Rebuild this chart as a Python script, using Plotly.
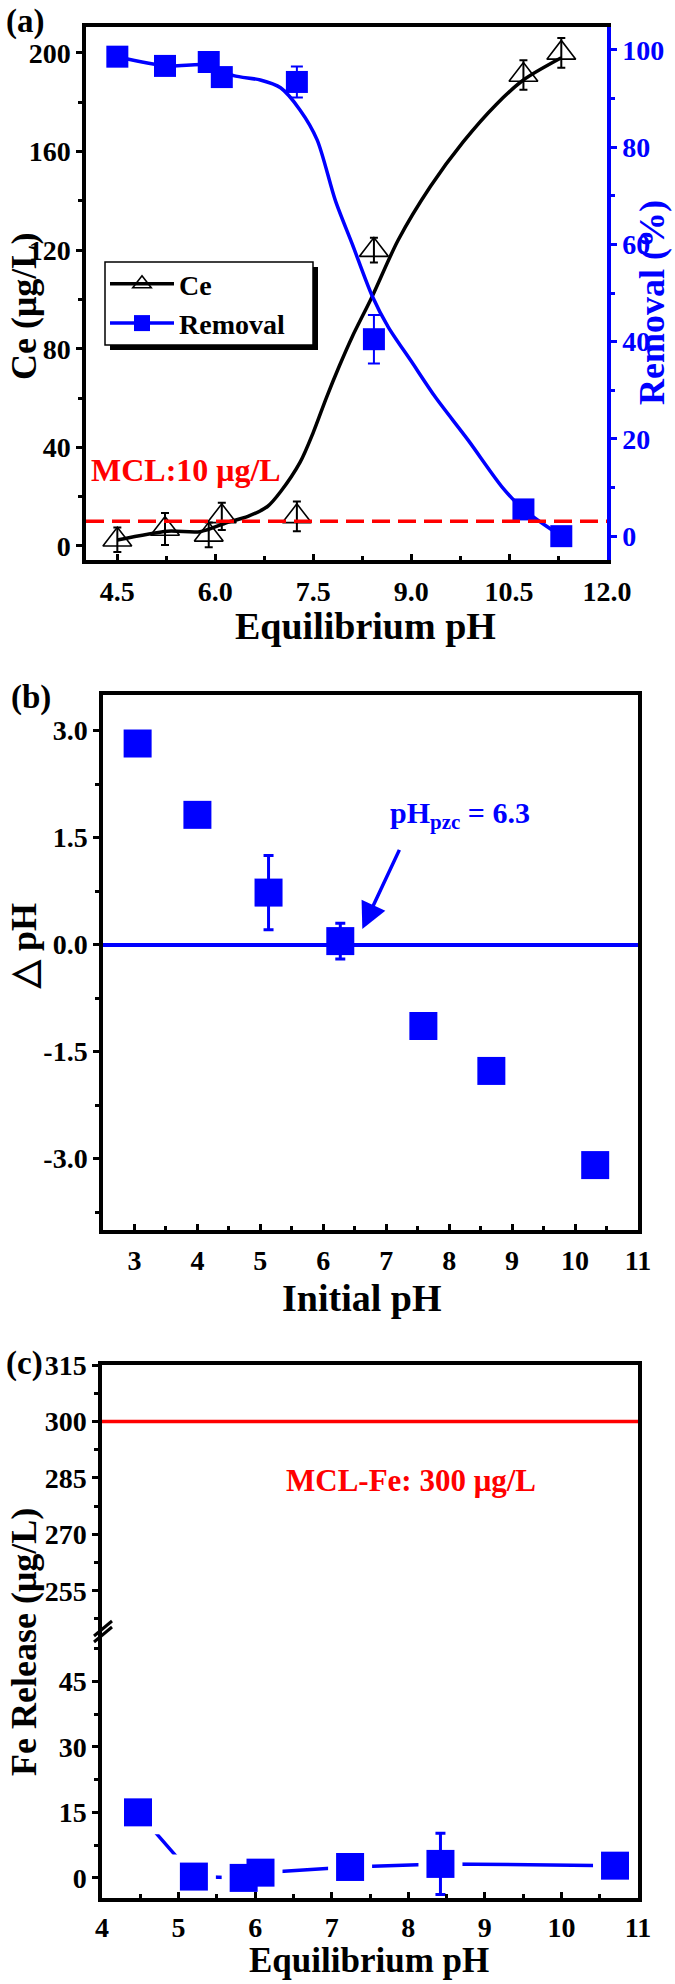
import plotly.graph_objects as go

W, H = 675, 1984
FONT = "Liberation Serif, Times New Roman, serif"
BLUE = "#0000FF"
RED = "#FF0000"

# ---------------- Panel (a) data ----------------
ph_a = [4.50, 5.23, 5.90, 6.10, 7.25, 8.43, 10.72, 11.30]
ce = [2.5, 6.9, 4.5, 12.0, 12.0, 120.0, 191.0, 200.0]
ce_err = [5.0, 6.5, 5.0, 5.5, 6.0, 5.0, 6.0, 6.0]
removal = [98.6, 96.7, 97.5, 94.4, 93.4, 40.5, 5.5, 0.0]
removal_err = [0.8, 0.8, 0.8, 0.8, 3.2, 5.0, 0.8, 0.8]
ce_fit_ph = [4.5, 5.27, 5.77, 6.18, 6.5, 6.8, 7.0, 7.3, 7.5, 7.7, 7.9, 8.1, 8.4, 8.8, 9.3, 9.8, 10.3, 10.72, 11.3]
ce_fit = [2.4, 6.0, 5.8, 9.5, 12.0, 16.0, 22.0, 34.0, 46.0, 60.0, 73.0, 85.0, 101.0, 124.0, 146.0, 164.0, 179.0, 189.0, 198.0]
rem_fit_ph = [4.5, 5.27, 5.88, 6.28, 6.69, 7.0, 7.3, 7.56, 7.84, 8.1, 8.4, 8.65, 9.0, 9.37, 9.87, 10.4, 10.72, 11.3]
rem_fit = [98.6, 96.7, 96.9, 94.7, 93.8, 92.2, 87.6, 81.5, 69.0, 60.0, 49.5, 43.0, 36.0, 28.6, 19.8, 10.0, 5.5, 0.0]
mcl_ce = 10
a_xticks = [4.5, 6.0, 7.5, 9.0, 10.5, 12.0]
a_xticktext = ["4.5", "6.0", "7.5", "9.0", "10.5", "12.0"]
a_yticks = [0, 40, 80, 120, 160, 200]
a_y2ticks = [0, 20, 40, 60, 80, 100]

# ---------------- Panel (b) data ----------------
ph_init = [3.05, 4.0, 5.13, 6.27, 7.59, 8.67, 10.32]
dph = [2.82, 1.82, 0.73, 0.05, -1.14, -1.77, -3.09]
dph_err = [0.05, 0.05, 0.52, 0.25, 0.05, 0.05, 0.05]
b_xticks = [3, 4, 5, 6, 7, 8, 9, 10, 11]
b_yticks = [-3.0, -1.5, 0.0, 1.5, 3.0]
b_yticktext = ["-3.0", "-1.5", "0.0", "1.5", "3.0"]

# ---------------- Panel (c) data ----------------
ph_c = [4.47, 5.20, 5.85, 6.07, 7.24, 8.42, 10.70]
fe = [15.0, 0.3, 0.0, 1.2, 2.5, 3.2, 2.8]
fe_err = [1.0, 1.0, 1.5, 1.0, 0.8, 7.0, 1.0]
mcl_fe = 300
c_xticks = [4, 5, 6, 7, 8, 9, 10, 11]
c_low_ticks = [0, 15, 30, 45]
c_up_ticks = [255, 270, 285, 300, 315]


def px_x(p):
    return p / W


def px_y(p):
    return 1 - p / H


fig = go.Figure()

# ---- panel (a) traces ----
fig.add_trace(go.Scatter(x=ce_fit_ph, y=ce_fit, mode="lines", line=dict(color="black", width=3.5, shape="spline", smoothing=0.8),
                         xaxis="x", yaxis="y", showlegend=False, hoverinfo="skip"))
fig.add_trace(go.Scatter(x=rem_fit_ph, y=rem_fit, mode="lines", line=dict(color=BLUE, width=3.5, shape="spline", smoothing=0.8),
                         xaxis="x", yaxis="y2", showlegend=False, hoverinfo="skip"))
fig.add_trace(go.Scatter(x=ph_a, y=ce, mode="markers", xaxis="x", yaxis="y", showlegend=False,
                         marker=dict(symbol="triangle-up-open", size=25, color="black", line=dict(width=1.6, color="black")),
                         error_y=dict(type="data", array=ce_err, color="black", thickness=2, width=4)))
fig.add_trace(go.Scatter(x=ph_a, y=removal, mode="markers", xaxis="x", yaxis="y2", showlegend=False,
                         marker=dict(symbol="square", size=22, color=BLUE),
                         error_y=dict(type="data", array=removal_err, color=BLUE, thickness=2, width=6)))
# legend entries
fig.add_trace(go.Scatter(x=[None], y=[None], mode="lines+markers", name="Ce", xaxis="x", yaxis="y",
                         line=dict(color="black", width=3.5),
                         marker=dict(symbol="triangle-up-open", size=25, color="black", line=dict(width=1.6))))
fig.add_trace(go.Scatter(x=[None], y=[None], mode="lines+markers", name="Removal", xaxis="x", yaxis="y2",
                         line=dict(color=BLUE, width=3.5),
                         marker=dict(symbol="square", size=22, color=BLUE)))

# ---- panel (b) traces ----
fig.add_trace(go.Scatter(x=ph_init, y=dph, mode="markers", xaxis="x2", yaxis="y3", showlegend=False,
                         marker=dict(symbol="square", size=28, color=BLUE),
                         error_y=dict(type="data", array=dph_err, color=BLUE, thickness=3, width=5)))

# ---- panel (c) traces ----
fig.add_trace(go.Scatter(x=ph_c, y=fe, mode="lines+markers", xaxis="x3", yaxis="y4", showlegend=False,
                         line=dict(color=BLUE, width=3.5),
                         marker=dict(symbol="square", size=44, color="white", line=dict(width=0))))
fig.add_trace(go.Scatter(x=ph_c, y=fe, mode="markers", xaxis="x3", yaxis="y4", showlegend=False,
                         marker=dict(symbol="square", size=28, color=BLUE),
                         error_y=dict(type="data", array=fe_err, color=BLUE, thickness=3, width=5)))
fig.add_trace(go.Scatter(x=[4, 11], y=[mcl_fe, mcl_fe], mode="lines", xaxis="x4", yaxis="y5", showlegend=False,
                         line=dict(color=RED, width=3.5), hoverinfo="skip"))

TICK = 28
tickfont = dict(family=FONT, size=TICK, color="black", weight="bold")


def axis(**kw):
    base = dict(showline=True, linewidth=3.5, linecolor="black", showgrid=False, zeroline=False,
                ticks="outside", ticklen=6, tickwidth=3, tickcolor="black", tickfont=tickfont)
    base.update(kw)
    return base


def minor(dt, t0=0, ticks="outside"):
    return dict(ticks=ticks, ticklen=4, tickwidth=3, tickcolor="black", dtick=dt, tick0=t0, showgrid=False)


dom_a_x = [px_x(86), px_x(607)]
dom_a_y = [px_y(560), px_y(27)]
dom_b_x = [px_x(103), px_x(638)]
dom_b_y = [px_y(1230), px_y(695)]
dom_c_x = [px_x(102), px_x(638)]
brk = px_y(1631)
dom_c_low = [px_y(1898), brk]
dom_c_up = [brk, px_y(1365)]

fig.update_layout(
    width=W, height=H,
    margin=dict(l=0, r=0, t=0, b=0, autoexpand=False),
    paper_bgcolor="white", plot_bgcolor="rgba(0,0,0,0)",
    font=dict(family=FONT, color="black", weight="bold"),
    showlegend=True,
    legend=dict(x=px_x(105), y=px_y(259), xanchor="left", yanchor="top",
                font=dict(family=FONT, size=28, color="black", weight="bold"),
                bgcolor="rgba(0,0,0,0)", borderwidth=0,
                itemwidth=64, tracegroupgap=0),
    xaxis=axis(domain=dom_a_x, range=[4.02, 12.0], anchor="y", mirror=True, ticks="inside",
               tickvals=a_xticks, ticktext=a_xticktext, minor=minor(0.75, 4.5, "inside"), ticklabelstandoff=4),
    yaxis=axis(domain=dom_a_y, range=[-5.7, 210.5], anchor="x", tickvals=a_yticks, minor=minor(20, 0)),
    yaxis2=axis(domain=dom_a_y, range=[-4.9, 104.7], anchor="x", overlaying="y", side="right",
                linecolor=BLUE, tickcolor=BLUE, tickvals=a_y2ticks,
                tickfont=dict(family=FONT, size=TICK, color=BLUE, weight="bold"),
                minor=dict(ticks="outside", ticklen=4, tickwidth=3, tickcolor=BLUE, dtick=10, tick0=0)),
    xaxis2=axis(domain=dom_b_x, range=[2.5, 11], anchor="y3", mirror=True, ticks="inside", tickvals=b_xticks,
                minor=minor(0.5, 0, "inside"), ticklabelstandoff=3),
    yaxis3=axis(domain=dom_b_y, range=[-4.0, 3.5], anchor="x2", mirror=True, tickvals=b_yticks, ticktext=b_yticktext,
                zeroline=True, zerolinecolor=BLUE, zerolinewidth=3.5, minor=minor(0.75, 0)),
    xaxis3=axis(domain=dom_c_x, range=[4, 11], anchor="y4", ticks="inside", tickvals=c_xticks,
                minor=minor(0.5, 0, "inside"), ticklabelstandoff=2),
    yaxis4=axis(domain=dom_c_low, range=[-4.6, 56.5], anchor="x3", mirror=True, tickvals=c_low_ticks, minor=minor(7.5, 0)),
    xaxis4=axis(domain=dom_c_x, range=[4, 11], anchor="y5", side="top", ticks="", showticklabels=False, tickvals=[]),
    yaxis5=axis(domain=dom_c_up, range=[244.3, 315], anchor="x4", mirror=True, tickvals=c_up_ticks, minor=minor(7.5, 0)),
)

shapes = [
    # MCL dashed line in (a)
    dict(type="line", xref="x domain", yref="y", x0=0, x1=1, y0=mcl_ce, y1=mcl_ce,
         line=dict(color=RED, width=3.5, dash="18px,8px"), layer="above"),
    # legend box with shadow (a)
    dict(type="rect", xref="paper", yref="paper", x0=px_x(110), x1=px_x(318), y0=px_y(350), y1=px_y(267),
         fillcolor="black", line=dict(width=0), layer="above"),
    dict(type="rect", xref="paper", yref="paper", x0=px_x(105), x1=px_x(313), y0=px_y(345), y1=px_y(262),
         fillcolor="white", line=dict(color="black", width=1.5), layer="above"),
    # axis break marks (c)
    dict(type="line", xref="paper", yref="paper", x0=px_x(94), x1=px_x(112), y0=px_y(1642), y1=px_y(1627),
         line=dict(color="black", width=3)),
    dict(type="line", xref="paper", yref="paper", x0=px_x(94), x1=px_x(112), y0=px_y(1636), y1=px_y(1621),
         line=dict(color="black", width=3)),
]
fig.update_layout(shapes=shapes)


def ann(text, x, y, size, color="black", angle=0, xanchor="center", **kw):
    d = dict(text=text, x=px_x(x), y=px_y(y), xref="paper", yref="paper", showarrow=False,
             font=dict(family=FONT, size=size, color=color, weight="bold"), textangle=angle,
             xanchor=xanchor, yanchor="middle", borderpad=0)
    d.update(kw)
    return d


annotations = [
    ann("(a)", 25, 21, 33),
    ann("(b)", 31, 697, 33),
    ann("(c)", 24, 1363, 33),
    ann("Ce (μg/L)", 24, 307, 36, angle=-90),
    ann("Removal (%)", 652, 303, 36, color=BLUE, angle=-90),
    ann("Equilibrium pH", 365, 626, 38),
    ann("MCL:10 μg/L", 90, 470, 32, color=RED, xanchor="left"),
    ann("△ pH", 24, 946, 36, angle=-90),
    ann("Initial pH", 361, 1298, 38),
    ann("pH<sub>pzc</sub> = 6.3", 460, 815, 30, color=BLUE),
    dict(text="", x=6.62, y=0.22, xref="x2", yref="y3", ax=7.22, ay=1.35, axref="x2", ayref="y3",
         showarrow=True, arrowhead=2, arrowsize=1.5, arrowwidth=3.5, arrowcolor=BLUE),
    ann("MCL-Fe: 300 μg/L", 411, 1480, 31, color=RED),
    ann("Fe Release (μg/L)", 24, 1642, 36, angle=-90),
    ann("Equilibrium pH", 369, 1960, 35),
]
fig.update_layout(annotations=annotations)

fig.write_html("out.html", config={"displayModeBar": False},
               post_script="document.body.style.margin='0';document.body.style.padding='0';")
